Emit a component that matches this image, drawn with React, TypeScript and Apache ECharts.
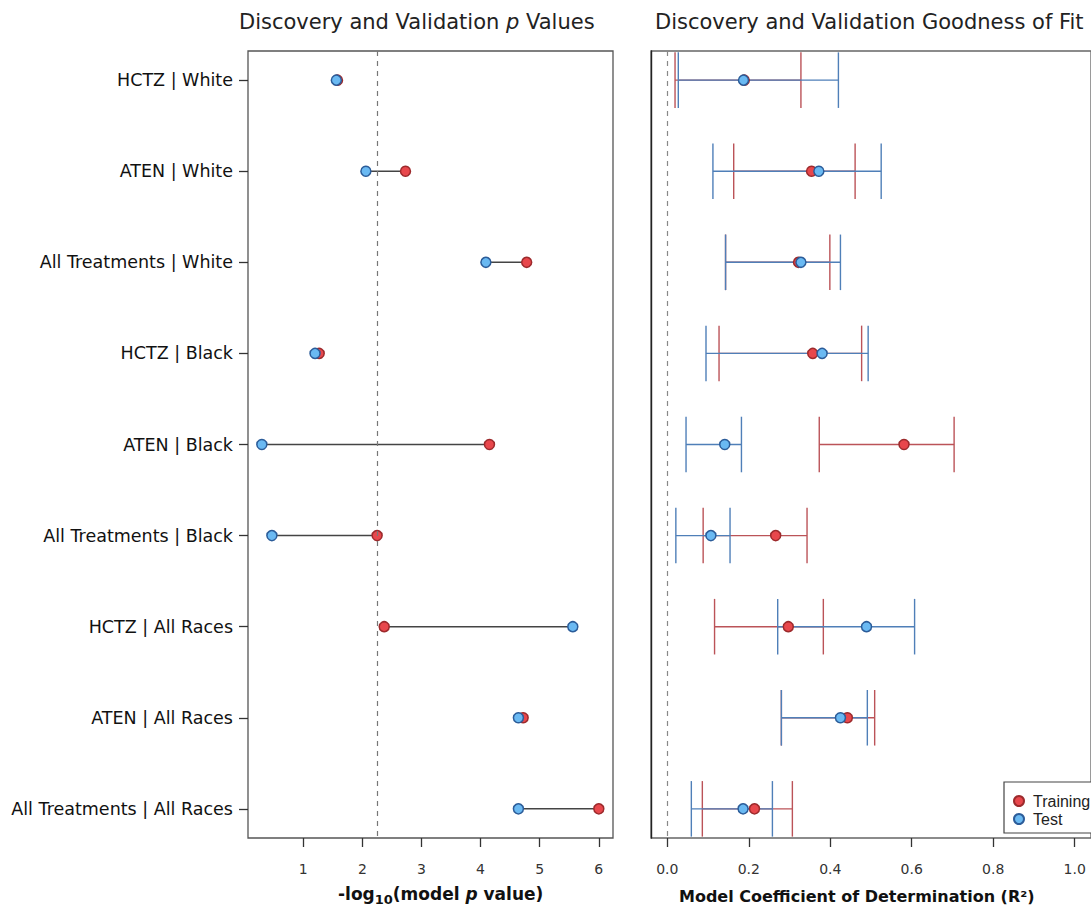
import React, { useEffect, useRef } from 'react';
import * as echarts from 'echarts';

const categories = [
  'HCTZ | White',
  'ATEN | White',
  'All Treatments | White',
  'HCTZ | Black',
  'ATEN | Black',
  'All Treatments | Black',
  'HCTZ | All Races',
  'ATEN | All Races',
  'All Treatments | All Races',
];
const rows = [1, 2, 3, 4, 5, 6, 7, 8, 9];

const pTraining = [1.58, 2.73, 4.78, 1.27, 4.15, 2.25, 2.37, 4.72, 6.0];
const pTest = [1.56, 2.06, 4.09, 1.2, 0.3, 0.47, 5.56, 4.64, 4.64];
const pThreshold = 2.255;
const pTicks = [1, 2, 3, 4, 5, 6];

const r2Training = [0.189, 0.354, 0.322, 0.357, 0.581, 0.266, 0.297, 0.442, 0.214];
const r2TrainingLow = [0.019, 0.163, 0.143, 0.127, 0.373, 0.088, 0.116, 0.28, 0.086];
const r2TrainingHigh = [0.328, 0.461, 0.399, 0.477, 0.704, 0.343, 0.383, 0.509, 0.307];
const r2Test = [0.187, 0.372, 0.328, 0.38, 0.141, 0.107, 0.489, 0.425, 0.186];
const r2TestLow = [0.027, 0.112, 0.143, 0.095, 0.046, 0.021, 0.271, 0.28, 0.059];
const r2TestHigh = [0.42, 0.525, 0.425, 0.493, 0.182, 0.154, 0.607, 0.491, 0.258];
const r2Ticks = [0, 0.2, 0.4, 0.6, 0.8, 1.0];

const FONT = 'DejaVu Sans';
const RED_FILL = '#e8474c';
const RED_EDGE = '#9c2a2c';
const BLUE_FILL = '#6ab9f2';
const BLUE_EDGE = '#2b5c99';
const RED_LINE = '#bb5358';
const BLUE_LINE = '#4f7fb8';

function ciRenderer(color: string) {
  return (params: any, api: any) => {
    const lo = api.coord([api.value(0), api.value(2)]);
    const hi = api.coord([api.value(1), api.value(2)]);
    const h = api.size([0, 0.305])[1];
    const style = { stroke: color, lineWidth: 1.4 };
    return {
      type: 'group',
      children: [
        { type: 'line', shape: { x1: lo[0], y1: lo[1], x2: hi[0], y2: hi[1] }, style },
        { type: 'line', shape: { x1: lo[0], y1: lo[1] - h, x2: lo[0], y2: lo[1] + h }, style },
        { type: 'line', shape: { x1: hi[0], y1: hi[1] - h, x2: hi[0], y2: hi[1] + h }, style },
      ],
    };
  };
}

export default function App() {
  const ref = useRef<HTMLDivElement>(null);

  useEffect(() => {
    if (!ref.current) return;
    const chart = echarts.init(ref.current, undefined, { renderer: 'svg' });

    const yBase = {
      type: 'value',
      min: 0.68,
      max: 9.32,
      inverse: true,
      splitLine: { show: false },
    };

    const xCommon = {
      type: 'value',
      splitLine: { show: false },
      axisLine: { show: false, onZero: false },
      axisTick: { show: true, length: 9, lineStyle: { color: '#333', width: 1.3 } },
      axisLabel: { fontFamily: FONT, fontSize: 14, color: '#333', margin: 24 },
    };

    const option: any = {
      animation: false,
      backgroundColor: '#fff',
      grid: [
        { left: 248, top: 51, width: 365, height: 787, show: true, borderColor: '#555', borderWidth: 1.3, backgroundColor: '#fff' },
        { left: 651, top: 51, width: 442, height: 787, show: true, borderColor: '#666', borderWidth: 1.3, backgroundColor: '#fff' },
      ],
      xAxis: [
        {
          ...xCommon,
          gridIndex: 0,
          min: 0.066,
          max: 6.24,
          axisTick: { ...xCommon.axisTick, customValues: pTicks },
          axisLabel: { ...xCommon.axisLabel, customValues: pTicks },
        },
        {
          ...xCommon,
          gridIndex: 1,
          min: -0.04,
          max: 1.04,
          axisTick: { ...xCommon.axisTick, customValues: r2Ticks },
          axisLabel: { ...xCommon.axisLabel, customValues: r2Ticks, formatter: (v: number) => v.toFixed(1) },
        },
      ],
      yAxis: [
        {
          ...yBase,
          gridIndex: 0,
          axisLine: { show: false, onZero: false },
          axisTick: { show: true, length: 9, customValues: rows, lineStyle: { color: '#333', width: 1.3 } },
          axisLabel: {
            customValues: rows,
            margin: 15,
            fontFamily: FONT,
            fontSize: 17.5,
            color: '#111',
            formatter: (v: number) => categories[Math.round(v) - 1] ?? '',
          },
        },
        {
          ...yBase,
          gridIndex: 1,
          axisLine: { show: true, onZero: false, lineStyle: { color: '#222', width: 1.4 } },
          axisTick: { show: false },
          axisLabel: { show: false },
        },
      ],
      legend: {
        data: ['Training', 'Test'],
        orient: 'vertical',
        left: 1004,
        top: 782,
        icon: 'circle',
        itemWidth: 10,
        itemHeight: 10,
        itemGap: 2,
        padding: [11, 30, 6, 9],
        borderColor: '#444',
        borderWidth: 1.2,
        borderRadius: 0,
        backgroundColor: '#fff',
        textStyle: { fontFamily: 'Liberation Sans', fontSize: 16, color: '#222', padding: [0, 0, 0, 4] },
      },
      graphic: [
        {
          type: 'text',
          left: 239,
          top: 11,
          style: {
            text: '{n|Discovery and Validation }{i|p}{n| Values}',
            rich: {
              n: { fontFamily: FONT, fontSize: 21, fill: '#222' },
              i: { fontFamily: FONT, fontSize: 21, fontStyle: 'italic', fill: '#222' },
            },
          },
        },
        {
          type: 'text',
          left: 655,
          top: 11,
          style: { text: 'Discovery and Validation Goodness of Fit', fontFamily: FONT, fontSize: 21, fill: '#222' },
        },
        {
          type: 'text',
          left: 338,
          top: 885,
          style: {
            text: '{b|-log}{s|10}{b|(model }{bi|p}{b| value)}',
            rich: {
              b: { fontFamily: FONT, fontSize: 17, fontWeight: 'bold', fill: '#111' },
              bi: { fontFamily: FONT, fontSize: 17, fontWeight: 'bold', fontStyle: 'italic', fill: '#111' },
              s: { fontFamily: FONT, fontSize: 13, fontWeight: 'bold', fill: '#111', padding: [11, 0, 0, 0] },
            },
          },
        },
        {
          type: 'text',
          left: 679,
          top: 888,
          style: {
            text: 'Model Coefficient of Determination (R²)',
            fontFamily: FONT,
            fontSize: 16,
            fontWeight: 'bold',
            fill: '#111',
          },
        },
      ],
      series: [
        {
          type: 'custom',
          name: 'pLink',
          xAxisIndex: 0,
          yAxisIndex: 0,
          data: rows.map((r, i) => [pTraining[i], pTest[i], r]),
          encode: { x: [0, 1], y: 2 },
          renderItem: (params: any, api: any) => {
            const a = api.coord([api.value(0), api.value(2)]);
            const b = api.coord([api.value(1), api.value(2)]);
            return {
              type: 'line',
              shape: { x1: a[0], y1: a[1], x2: b[0], y2: b[1] },
              style: { stroke: '#444', lineWidth: 1.5 },
            };
          },
          markLine: {
            silent: true,
            symbol: 'none',
            label: { show: false },
            lineStyle: { type: [5, 5], color: '#777', width: 1.2 },
            data: [{ xAxis: pThreshold }],
          },
          z: 1,
        },
        {
          type: 'scatter',
          name: 'Training',
          xAxisIndex: 0,
          yAxisIndex: 0,
          symbolSize: 10,
          itemStyle: { color: RED_FILL, borderColor: RED_EDGE, borderWidth: 1.5, opacity: 1 },
          data: rows.map((r, i) => [pTraining[i], r]),
          z: 3,
        },
        {
          type: 'scatter',
          name: 'Test',
          xAxisIndex: 0,
          yAxisIndex: 0,
          symbolSize: 10,
          itemStyle: { color: BLUE_FILL, borderColor: BLUE_EDGE, borderWidth: 1.5, opacity: 1 },
          data: rows.map((r, i) => [pTest[i], r]),
          z: 4,
        },
        {
          type: 'custom',
          name: 'TrainingCI',
          xAxisIndex: 1,
          yAxisIndex: 1,
          data: rows.map((r, i) => [r2TrainingLow[i], r2TrainingHigh[i], r]),
          encode: { x: [0, 1], y: 2 },
          renderItem: ciRenderer(RED_LINE),
          markLine: {
            silent: true,
            symbol: 'none',
            label: { show: false },
            lineStyle: { type: [5, 5], color: '#888', width: 1.2 },
            data: [{ xAxis: 0 }],
          },
          z: 1,
        },
        {
          type: 'custom',
          name: 'TestCI',
          xAxisIndex: 1,
          yAxisIndex: 1,
          data: rows.map((r, i) => [r2TestLow[i], r2TestHigh[i], r]),
          encode: { x: [0, 1], y: 2 },
          renderItem: ciRenderer(BLUE_LINE),
          z: 2,
        },
        {
          type: 'scatter',
          name: 'Training',
          xAxisIndex: 1,
          yAxisIndex: 1,
          symbolSize: 10,
          itemStyle: { color: RED_FILL, borderColor: RED_EDGE, borderWidth: 1.5, opacity: 1 },
          data: rows.map((r, i) => [r2Training[i], r]),
          z: 3,
        },
        {
          type: 'scatter',
          name: 'Test',
          xAxisIndex: 1,
          yAxisIndex: 1,
          symbolSize: 10,
          itemStyle: { color: BLUE_FILL, borderColor: BLUE_EDGE, borderWidth: 1.5, opacity: 1 },
          data: rows.map((r, i) => [r2Test[i], r]),
          z: 4,
        },
      ],
    };

    chart.setOption(option);
    return () => chart.dispose();
  }, []);

  return (
    <div
      ref={ref}
      style={{ position: 'absolute', left: 0, top: 0, width: 1091, height: 908, overflow: 'hidden' }}
    />
  );
}
